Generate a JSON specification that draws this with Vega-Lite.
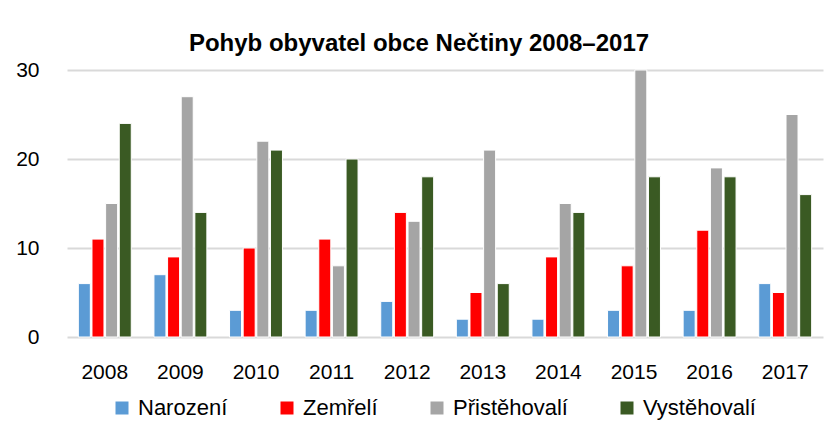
{
  "$schema": "https://vega.github.io/schema/vega-lite/v6.json",
  "width": 756,
  "height": 267,
  "autosize": {"type": "none"},
  "padding": {"left": 67, "top": 70, "right": 5, "bottom": 98},
  "background": "white",
  "title": {
    "text": "Pohyb obyvatel obce Nečtiny 2008–2017",
    "font": "Liberation Sans",
    "fontSize": 24,
    "fontWeight": "bold",
    "color": "#000000",
    "anchor": "middle",
    "frame": "group",
    "dx": -26,
    "offset": 3
  },
  "data": {
    "values": [
      {"rok": "2008", "typ": "Narození", "pocet": 6},
      {"rok": "2008", "typ": "Zemřelí", "pocet": 11},
      {"rok": "2008", "typ": "Přistěhovalí", "pocet": 15},
      {"rok": "2008", "typ": "Vystěhovalí", "pocet": 24},
      {"rok": "2009", "typ": "Narození", "pocet": 7},
      {"rok": "2009", "typ": "Zemřelí", "pocet": 9},
      {"rok": "2009", "typ": "Přistěhovalí", "pocet": 27},
      {"rok": "2009", "typ": "Vystěhovalí", "pocet": 14},
      {"rok": "2010", "typ": "Narození", "pocet": 3},
      {"rok": "2010", "typ": "Zemřelí", "pocet": 10},
      {"rok": "2010", "typ": "Přistěhovalí", "pocet": 22},
      {"rok": "2010", "typ": "Vystěhovalí", "pocet": 21},
      {"rok": "2011", "typ": "Narození", "pocet": 3},
      {"rok": "2011", "typ": "Zemřelí", "pocet": 11},
      {"rok": "2011", "typ": "Přistěhovalí", "pocet": 8},
      {"rok": "2011", "typ": "Vystěhovalí", "pocet": 20},
      {"rok": "2012", "typ": "Narození", "pocet": 4},
      {"rok": "2012", "typ": "Zemřelí", "pocet": 14},
      {"rok": "2012", "typ": "Přistěhovalí", "pocet": 13},
      {"rok": "2012", "typ": "Vystěhovalí", "pocet": 18},
      {"rok": "2013", "typ": "Narození", "pocet": 2},
      {"rok": "2013", "typ": "Zemřelí", "pocet": 5},
      {"rok": "2013", "typ": "Přistěhovalí", "pocet": 21},
      {"rok": "2013", "typ": "Vystěhovalí", "pocet": 6},
      {"rok": "2014", "typ": "Narození", "pocet": 2},
      {"rok": "2014", "typ": "Zemřelí", "pocet": 9},
      {"rok": "2014", "typ": "Přistěhovalí", "pocet": 15},
      {"rok": "2014", "typ": "Vystěhovalí", "pocet": 14},
      {"rok": "2015", "typ": "Narození", "pocet": 3},
      {"rok": "2015", "typ": "Zemřelí", "pocet": 8},
      {"rok": "2015", "typ": "Přistěhovalí", "pocet": 30},
      {"rok": "2015", "typ": "Vystěhovalí", "pocet": 18},
      {"rok": "2016", "typ": "Narození", "pocet": 3},
      {"rok": "2016", "typ": "Zemřelí", "pocet": 12},
      {"rok": "2016", "typ": "Přistěhovalí", "pocet": 19},
      {"rok": "2016", "typ": "Vystěhovalí", "pocet": 18},
      {"rok": "2017", "typ": "Narození", "pocet": 6},
      {"rok": "2017", "typ": "Zemřelí", "pocet": 5},
      {"rok": "2017", "typ": "Přistěhovalí", "pocet": 25},
      {"rok": "2017", "typ": "Vystěhovalí", "pocet": 16}
    ]
  },
  "mark": {"type": "bar", "stroke": "white", "strokeWidth": 1},
  "encoding": {
    "x": {
      "field": "rok",
      "type": "nominal",
      "scale": {"paddingInner": 0.3, "paddingOuter": 0.15},
      "axis": {
        "title": null,
        "labelAngle": 0,
        "labelFont": "Liberation Sans",
        "labelFontSize": 21,
        "labelColor": "#000000",
        "labelPadding": 24,
        "ticks": false,
        "domain": false
      }
    },
    "xOffset": {
      "field": "typ",
      "type": "nominal",
      "sort": ["Narození", "Zemřelí", "Přistěhovalí", "Vystěhovalí"],
      "scale": {"paddingInner": 0.12}
    },
    "y": {
      "field": "pocet",
      "type": "quantitative",
      "scale": {"domain": [0, 30], "nice": false},
      "axis": {
        "title": null,
        "values": [0, 10, 20, 30],
        "labelFont": "Liberation Sans",
        "labelFontSize": 21,
        "labelColor": "#000000",
        "labelPadding": 28,
        "ticks": false,
        "domain": false,
        "grid": true,
        "gridColor": "#D9D9D9",
        "gridWidth": 2
      }
    },
    "color": {
      "field": "typ",
      "type": "nominal",
      "sort": ["Narození", "Zemřelí", "Přistěhovalí", "Vystěhovalí"],
      "scale": {
        "domain": ["Narození", "Zemřelí", "Přistěhovalí", "Vystěhovalí"],
        "range": ["#5B9BD5", "#FF0000", "#A5A5A5", "#3A5A23"]
      },
      "legend": {
        "title": null,
        "orient": "none",
        "direction": "horizontal",
        "legendX": 44,
        "legendY": 327,
        "symbolType": "square",
        "symbolSize": 169,
        "symbolStrokeWidth": 0,
        "labelFont": "Liberation Sans",
        "labelFontSize": 22,
        "labelColor": "#000000",
        "labelOffset": 5,
        "columnPadding": 48
      }
    }
  },
  "config": {"view": {"stroke": null}}
}
